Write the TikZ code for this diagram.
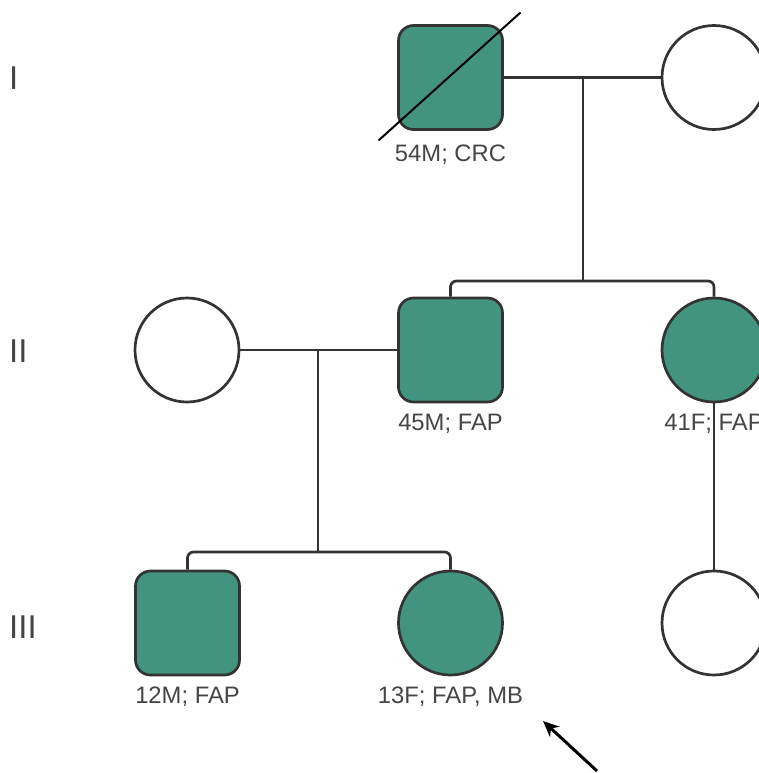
\documentclass[tikz,border=0pt]{standalone}
\usepackage{fontspec}
\setmainfont{Liberation Sans}
\usetikzlibrary{arrows.meta}
\definecolor{affected}{HTML}{43947F}
\definecolor{edge}{HTML}{333333}
\definecolor{txt}{HTML}{454545}
\tikzset{
  male/.style={draw=edge,line width=2.7pt,rectangle,rounded corners=15pt,minimum size=104pt,inner sep=0pt},
  female/.style={draw=edge,line width=2.7pt,circle,minimum size=104pt,inner sep=0pt},
  aff/.style={fill=affected},
  line/.style={draw=edge,line width=2.7pt},
  lbl/.style={text=txt,anchor=base,font=\fontsize{23.8}{28}\selectfont,inner sep=0pt},
  gen/.style={text=txt,anchor=base west,font=\fontsize{33}{38}\selectfont,inner sep=0pt}
}
\begin{document}
\begin{tikzpicture}[x=1pt,y=-1pt]
    \useasboundingbox (0,0) rectangle (758,773);
    % generation I
    \node[gen] (genI) at (9,90) {I};
    \node[male,aff] (I1) at (450.5,77.5) {};
    \node[female] (I2) at (714,77.5) {};
    \node[lbl] (labI1) at (450.5,161) {54M; CRC};
    \coordinate (mateI) at (583,77.5);
    \coordinate (sibI) at (583,281);
    \draw[line] (I1) -- (I2);
    %
    % generation II
    \node[gen] (genII) at (9,362) {II};
    \node[female] (II1) at (187,350) {};
    \node[male,aff] (II2) at (450.5,350) {};
    \node[female,aff] (II3) at (714,350) {};
    \node[lbl] (labII2) at (450.5,430) {45M; FAP};
    \node[lbl] (labII3) at (714,430) {41F; FAP};
    \coordinate (mateII) at (318,350);
    \coordinate (sibII) at (318,552);
    \draw[line] (II1) -- (II2);
    %
    % generation III
    \node[gen] (genIII) at (9,638) {III};
    \node[male,aff] (III1) at (187.5,623) {};
    \node[female,aff] (III2) at (450.5,623) {};
    \node[female] (III3) at (714,623) {};
    \node[lbl] (labIII1) at (187.5,703) {12M; FAP};
    \node[lbl] (labIII2) at (450.5,703) {13F; FAP, MB};
    %
    % lines of descent
    \draw[line] (mateI) -- (sibI);
    \draw[line,rounded corners=6pt] (II2.north) |- (sibI) -| (II3.north);
    \draw[line] (mateII) -- (sibII);
    \draw[line,rounded corners=6pt] (III1.north) |- (sibII) -| (III2.north);
    \draw[line] (II3) -- (III3);
    %
    % deceased mark and proband arrow
    \draw[line width=2pt] ([shift={(-72,63)}]I1.center) -- ([shift={(70,-65)}]I1.center);
    \coordinate (probTail) at (597,771);
    \coordinate (probTip) at (543,721);
    \draw[line width=3pt,-{Stealth[length=16pt,width=14pt]}] (probTail) -- (probTip);
\end{tikzpicture}
\end{document}
